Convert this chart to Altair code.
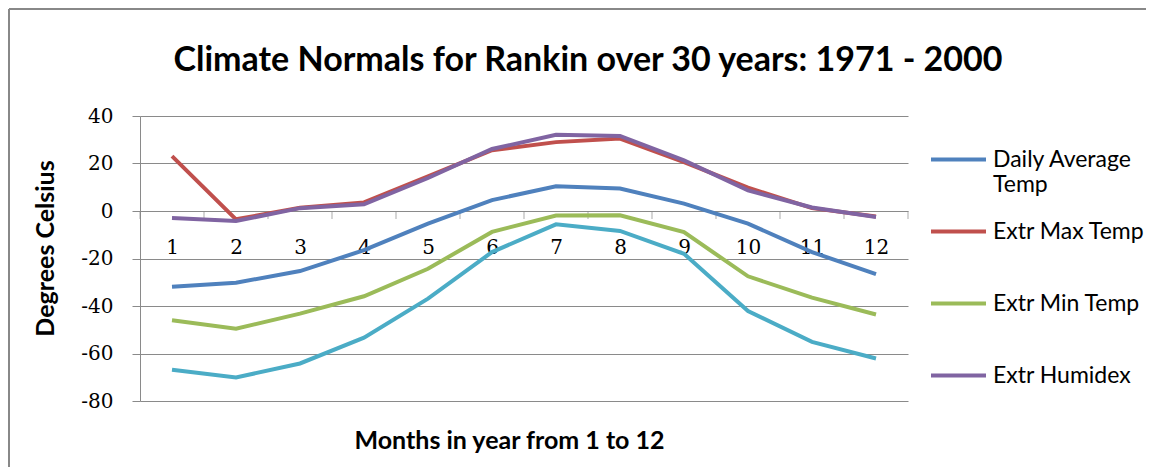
import altair as alt
import pandas as pd

# ---- data ----
months = list(range(1, 13))
daily_avg = [-31.9, -30.2, -25.3, -16.5, -5.3, 4.6, 10.4, 9.5, 3.1, -5.3, -17.3, -26.6]
extr_max = [23.1, -3.5, 1.4, 3.6, 14.6, 25.6, 29.0, 30.5, 20.6, 9.8, 1.2, -2.3]
extr_min = [-46.0, -49.6, -43.2, -35.9, -24.3, -8.8, -1.9, -1.8, -8.9, -27.5, -36.5, -43.6]
humidex = [-2.9, -4.2, 1.2, 2.8, 13.9, 26.1, 32.1, 31.6, 21.3, 8.7, 1.5, -2.5]
wind_chill = [-66.8, -70.1, -64.2, -53.3, -36.9, -17.3, -5.6, -8.4, -18.0, -42.1, -55.1, -62.1]

series_names = ["Daily Average Temp", "Extr Max Temp", "Extr Min Temp", "Extr Humidex", "Extr Wind Chill"]
legend_names = series_names[:4]
colors = ["#4F81BD", "#C0504D", "#9BBB59", "#8064A2", "#4BACC6"]
y_ticks = [-80, -60, -40, -20, 0, 20, 40]

rows = []
for name, vals in zip(series_names, [daily_avg, extr_max, extr_min, humidex, wind_chill]):
    for m, v in zip(months, vals):
        rows.append({"month": m, "value": v, "series": name})
df = pd.DataFrame(rows)

edges = [m - 0.5 for m in months] + [months[-1] + 0.5]
edge_df = pd.DataFrame({"edge": edges, "zero": [0] * len(edges)})

SANS = "Lato"
SERIF = "DejaVu Serif"
GRID = "#8a8a8a"

xscale = alt.Scale(domain=[0.5, 12.5], nice=False, zero=False)
yscale = alt.Scale(domain=[-80, 40], nice=False, zero=False)
cscale = alt.Scale(domain=series_names, range=colors)

x_axis = alt.Axis(
    values=months, offset=-190, ticks=False, domain=False, grid=False,
    labelFont=SERIF, labelFontSize=20, labelColor="black", labelBaseline="middle",
    labelPadding=36, labelAngle=0, labelFlush=False, labelExpr="datum.value + ''",
    title="Months in year from 1 to 12", titleFont=SANS, titleFontSize=25,
    titleFontWeight="bold", titleColor="black", titleX=369, titleY=229,
    titleBaseline="middle",
)
y_axis = alt.Axis(
    values=y_ticks, grid=True, gridColor=GRID, gridWidth=1, domainColor=GRID,
    tickColor=GRID, tickSize=8, labelFont=SERIF, labelFontSize=20, labelPadding=19,
    labelColor="black", labelExpr="datum.value + ''",
    title="Degrees Celsius", titleFont=SANS, titleFontSize=25, titleFontWeight="bold",
    titleColor="black", titleX=-95, titleY=132, titleBaseline="middle",
)
legend = alt.Legend(
    values=legend_names, orient="none", legendX=789, legendY=14, title=None,
    symbolType="stroke", symbolSize=3025, symbolStrokeWidth=4,
    labelFont=SANS, labelFontSize=23, labelColor="black", labelOffset=5,
    labelLimit=400, padding=0, rowPadding=5, gridAlign="all",
    labelExpr="datum.label == 'Daily Average Temp' ? ['Daily Average', 'Temp'] : datum.label",
)

base = alt.Chart(df)
layers = []
for name in series_names:
    layers.append(
        base.transform_filter(alt.datum.series == name)
        .mark_line(strokeWidth=4)
        .encode(
            x=alt.X("month:Q", scale=xscale, axis=x_axis),
            y=alt.Y("value:Q", scale=yscale, axis=y_axis),
            color=alt.Color("series:N", scale=cscale, legend=legend),
        )
    )

ticks = alt.Chart(edge_df).mark_tick(
    orient="vertical", size=8, thickness=1, yOffset=4, color=GRID
).encode(
    x=alt.X("edge:Q", scale=xscale),
    y=alt.Y("zero:Q", scale=yscale),
)

# chart frame (only its top and left sides fall inside the picture)
frame_src = alt.Chart(pd.DataFrame({"a": [0]}))
frame_top = frame_src.mark_rule(stroke="#888888", strokeWidth=2).encode(
    x=alt.value(-131), x2=alt.value(1010), y=alt.value(-107)
)
frame_left = frame_src.mark_rule(stroke="#888888", strokeWidth=2).encode(
    x=alt.value(-131), y=alt.value(-107), y2=alt.value(360)
)

chart = alt.layer(frame_top, frame_left, ticks, *layers).properties(
    width=768, height=285,
    padding={"left": 132, "top": 108, "right": 238, "bottom": 66},
    autosize="none",
    title=alt.TitleParams(
        "Climate Normals for Rankin over 30 years: 1971 - 2000",
        font=SANS, fontSize=34, fontWeight="bold", color="black",
        anchor="middle", dx=64, offset=-70,
    ),
).configure_view(stroke=None)

chart.save("out.html", embed_options={"renderer": "svg", "actions": False})
